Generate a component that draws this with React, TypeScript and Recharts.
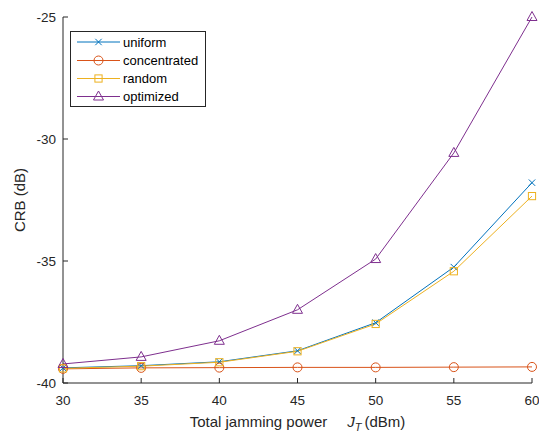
import { LineChart, Line, XAxis, YAxis } from "recharts";

const xTicks = [30, 35, 40, 45, 50, 55, 60];
const yTicks = [-40, -35, -30, -25];

const uniform = [-39.38, -39.29, -39.13, -38.68, -37.53, -35.25, -31.79];
const concentrated = [-39.42, -39.38, -39.37, -39.36, -39.36, -39.35, -39.34];
const random = [-39.4, -39.31, -39.15, -38.7, -37.58, -35.42, -32.34];
const optimized = [-39.22, -38.93, -38.27, -37.0, -34.92, -30.57, -25.0];

const data = xTicks.map((x, i) => ({
  x,
  uniform: uniform[i],
  concentrated: concentrated[i],
  random: random[i],
  optimized: optimized[i],
}));

const FONT = "'Liberation Sans', Arial, Helvetica, sans-serif";
const AXIS = "#262626";
const TICK_LEN = 5;

const SERIES = [
  { key: "uniform", label: "uniform", color: "#0072BD", marker: "x" },
  { key: "concentrated", label: "concentrated", color: "#D95319", marker: "o" },
  { key: "random", label: "random", color: "#EDB120", marker: "s" },
  { key: "optimized", label: "optimized", color: "#7E2F8E", marker: "^" },
];

function Marker({ cx, cy, kind, color }: { cx: number; cy: number; kind: string; color: string }) {
  if (cx == null || cy == null) return null;
  if (kind === "x") {
    const d = 3.2;
    return (
      <g stroke={color} strokeWidth={1}>
        <line x1={cx - d} y1={cy - d} x2={cx + d} y2={cy + d} />
        <line x1={cx - d} y1={cy + d} x2={cx + d} y2={cy - d} />
      </g>
    );
  }
  if (kind === "o") {
    return <circle cx={cx} cy={cy} r={4.5} fill="none" stroke={color} strokeWidth={1} />;
  }
  if (kind === "s") {
    return <rect x={cx - 3.6} y={cy - 3.6} width={7.2} height={7.2} fill="none" stroke={color} strokeWidth={1} />;
  }
  return (
    <polygon
      points={`${cx},${cy - 5.5} ${cx - 5},${cy + 3.5} ${cx + 5},${cy + 3.5}`}
      fill="none"
      stroke={color}
      strokeWidth={1}
    />
  );
}

// tick renderers: MATLAB style, ticks pointing inwards
function BottomTick(props: any) {
  const { x, y, payload } = props;
  return (
    <g>
      <line x1={x} x2={x} y1={y} y2={y - TICK_LEN} stroke={AXIS} />
      <text x={x} y={y + 22} textAnchor="middle" fontSize={13.5} fill={AXIS} fontFamily={FONT}>
        {payload.value}
      </text>
    </g>
  );
}

function TopTick(props: any) {
  const { x, y } = props;
  return <line x1={x} x2={x} y1={y} y2={y + TICK_LEN} stroke={AXIS} />;
}

function LeftTick(props: any) {
  const { x, y, payload } = props;
  return (
    <g>
      <line x1={x} x2={x + TICK_LEN} y1={y} y2={y} stroke={AXIS} />
      <text x={x - 7} y={y + 5} textAnchor="end" fontSize={13.5} fill={AXIS} fontFamily={FONT}>
        {payload.value}
      </text>
    </g>
  );
}

function RightTick(props: any) {
  const { x, y } = props;
  return <line x1={x} x2={x - TICK_LEN} y1={y} y2={y} stroke={AXIS} />;
}

function XTitle(props: any) {
  const vb = props.viewBox || {};
  const cx = (vb.x ?? 63) + (vb.width ?? 469) / 2;
  return (
    <text x={cx} y={427} textAnchor="middle" fontSize={15} fill={AXIS} fontFamily={FONT}>
      Total jamming power
      <tspan dx={20} fontStyle="italic">J</tspan>
      <tspan dy={4} fontSize={11} fontStyle="italic">T</tspan>
      <tspan dy={-4} dx={3}>(dBm)</tspan>
    </text>
  );
}

function YTitle() {
  return (
    <text
      x={25}
      y={200}
      transform="rotate(-90 25 200)"
      textAnchor="middle"
      fontSize={15}
      fill={AXIS}
      fontFamily={FONT}
    >
      CRB (dB)
    </text>
  );
}

function LegendBox() {
  const rowY = [42, 60.5, 78.5, 96.5];
  return (
    <svg
      width={136}
      height={76}
      style={{ position: "absolute", left: 70, top: 31, overflow: "visible" }}
    >
      <rect x={0.5} y={0.5} width={135} height={75} fill="#fff" stroke={AXIS} strokeWidth={1} />
      {SERIES.map((s, i) => {
        const y = rowY[i] - 31;
        return (
          <g key={s.key}>
            <line x1={7} x2={50} y1={y} y2={y} stroke={s.color} strokeWidth={1} />
            <Marker cx={28.5} cy={y} kind={s.marker} color={s.color} />
            <text x={53} y={y + 4.5} fontSize={13} fill="#000" fontFamily={FONT}>
              {s.label}
            </text>
          </g>
        );
      })}
    </svg>
  );
}

export default function App() {
  return (
    <div style={{ position: "absolute", left: 0, top: 0, width: 539, height: 435, background: "#fff" }}>
      <LineChart width={539} height={435} data={data} margin={{ top: 17, right: 7, left: 0, bottom: 0 }}>
        <XAxis
          dataKey="x"
          type="number"
          domain={[30, 60]}
          ticks={xTicks}
          height={52}
          tickSize={0}
          tickMargin={0}
          tickLine={false}
          axisLine={{ stroke: AXIS }}
          tick={(p: any) => <BottomTick {...p} />}
          label={(p: any) => <XTitle {...p} />}
          interval={0}
        />
        <XAxis
          xAxisId="top"
          orientation="top"
          dataKey="x"
          type="number"
          domain={[30, 60]}
          ticks={xTicks}
          height={0}
          tickSize={0}
          tickMargin={0}
          tickLine={false}
          axisLine={{ stroke: AXIS }}
          tick={(p: any) => <TopTick {...p} />}
          interval={0}
        />
        <YAxis
          type="number"
          domain={[-40, -25]}
          ticks={yTicks}
          width={63}
          tickSize={0}
          tickMargin={0}
          tickLine={false}
          axisLine={{ stroke: AXIS }}
          tick={(p: any) => <LeftTick {...p} />}
          label={() => <YTitle />}
          interval={0}
        />
        <YAxis
          yAxisId="right"
          orientation="right"
          type="number"
          domain={[-40, -25]}
          ticks={yTicks}
          width={0}
          tickSize={0}
          tickMargin={0}
          tickLine={false}
          axisLine={{ stroke: AXIS }}
          tick={(p: any) => <RightTick {...p} />}
          interval={0}
        />
        {SERIES.map((s) => (
          <Line
            key={s.key}
            dataKey={s.key}
            stroke={s.color}
            strokeWidth={1}
            type="linear"
            isAnimationActive={false}
            activeDot={false}
            dot={(p: any) => (
              <Marker key={`${s.key}-${p.index}`} cx={p.cx} cy={p.cy} kind={s.marker} color={s.color} />
            )}
          />
        ))}
      </LineChart>
      <LegendBox />
    </div>
  );
}
